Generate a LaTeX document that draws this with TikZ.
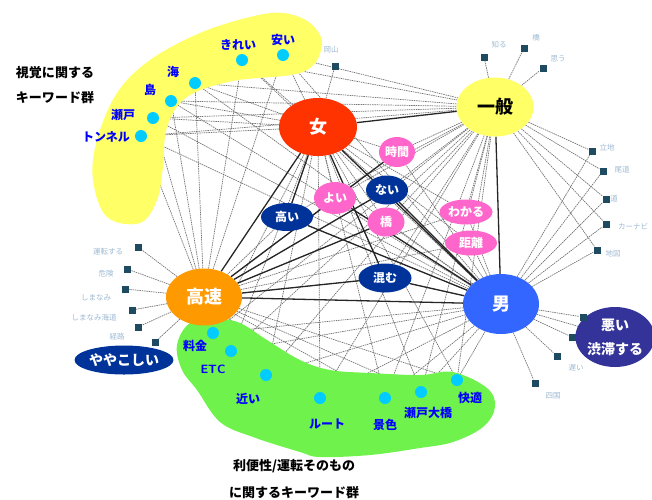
\documentclass[tikz,border=0pt]{standalone}
\usepackage{fontspec}
\newfontfamily\jp{Noto Sans CJK JP}
\usetikzlibrary{shapes.geometric}
\pgfdeclarelayer{bg}\pgfdeclarelayer{blobs}\pgfsetlayers{bg,blobs,main}
\definecolor{fem}{HTML}{FF3300}
\definecolor{gen}{HTML}{FFFF66}
\definecolor{fast}{HTML}{FF9900}
\definecolor{male}{HTML}{3366FF}
\definecolor{indigo}{HTML}{333399}
\definecolor{navy}{HTML}{003399}
\definecolor{pinkc}{HTML}{FF66CC}
\definecolor{dotblue}{HTML}{00CCFF}
\definecolor{textblue}{HTML}{0000FF}
\definecolor{yblob}{HTML}{FFFF66}
\definecolor{gblob}{HTML}{70F24C}
\definecolor{sqc}{HTML}{1E4A62}
\definecolor{faint}{HTML}{9DB9D2}
\tikzset{
 big/.style={ellipse, draw=none, inner sep=0pt, font=\jp\bfseries\fontsize{18}{20}\selectfont},
 small/.style={ellipse, inner sep=0pt, text=white, font=\jp\bfseries\fontsize{12}{14}\selectfont},
 dot/.style={circle, fill=dotblue, minimum size=12pt, inner sep=0pt},
 dlab/.style={text=textblue, inner sep=0pt, font=\jp\bfseries\fontsize{12}{14}\selectfont},
 sq/.style={rectangle, fill=sqc, minimum size=7pt, inner sep=0pt},
 flab/.style={text=faint, inner sep=0pt, font=\jp\fontsize{7.5}{9}\selectfont},
 grp/.style={inner sep=0pt, font=\jp\bfseries\fontsize{13}{15}\selectfont},
 ln/.style={black!55, line width=0.7pt, dash pattern=on 1.5pt off 0.8pt},
 tk/.style={black!85, line width=1.3pt}
}
\begin{document}
\begin{tikzpicture}[x=1pt,y=-1pt]
\useasboundingbox (0,0) rectangle (652,499);
% main nodes
\node[big, fill=fem, text=white, minimum width=78pt, minimum height=58pt] (F) at (318,127) {女};
\node[big, fill=gen, text=black, minimum width=77pt, minimum height=59pt] (G) at (495,107) {一般};
\node[big, fill=fast, text=white, minimum width=76pt, minimum height=57pt] (H) at (204,297) {高速};
\node[big, fill=male, text=white, minimum width=76pt, minimum height=60pt] (M) at (501,304) {男};
\node[small, fill=indigo, minimum width=77pt, minimum height=60pt, align=center, font=\jp\bfseries\fontsize{14}{24}\selectfont] (W) at (615,337) {悪い\\渋滞する};
\node[small, fill=navy, minimum width=96pt, minimum height=29pt, font=\jp\bfseries\fontsize{14}{16}\selectfont] (Y) at (124,360) {ややこしい};
% navy nodes
\node[small, fill=navy, minimum width=52pt, minimum height=28pt] (n1) at (287,217) {高い};
\node[small, fill=navy, minimum width=42pt, minimum height=29pt] (n2) at (387,190) {ない};
\node[small, fill=navy, minimum width=53pt, minimum height=29pt] (n3) at (385,278) {混む};
% pink nodes
\node[small, fill=pinkc, minimum width=36pt, minimum height=30pt] (p1) at (397,152) {時間};
\node[small, fill=pinkc, minimum width=42pt, minimum height=32pt] (p2) at (335,198) {よい};
\node[small, fill=pinkc, minimum width=37pt, minimum height=29pt] (p3) at (386,222) {橋};
\node[small, fill=pinkc, minimum width=53pt, minimum height=25pt] (p4) at (466,212) {わかる};
\node[small, fill=pinkc, minimum width=52pt, minimum height=25pt] (p5) at (471,243) {距離};
% yellow group dots
\node[dot] (y1) at (242,60) {};
\node[dot] (y2) at (283,55) {};
\node[dot] (y3) at (195,83) {};
\node[dot] (y4) at (171,101) {};
\node[dot] (y5) at (153,118) {};
\node[dot] (y6) at (141,136) {};
\node[dlab] (ly1) at (238,45) {きれい};
\node[dlab] (ly2) at (283,40) {安い};
\node[dlab] (ly3) at (173,72) {海};
\node[dlab] (ly4) at (150,90) {島};
\node[dlab] (ly5) at (123,115) {瀬戸};
\node[dlab] (ly6) at (106,137) {トンネル};
% green group dots
\node[dot] (g1) at (213,333) {};
\node[dot] (g2) at (231,351) {};
\node[dot] (g3) at (266,375) {};
\node[dot] (g4) at (320,398) {};
\node[dot] (g5) at (385,398) {};
\node[dot] (g6) at (421,392) {};
\node[dot] (g7) at (457,380) {};
\node[dlab] (lg1) at (195,346) {料金};
\node[dlab, font=\sffamily\bfseries\fontsize{12}{14}\selectfont] (lg2) at (213,369) {ETC};
\node[dlab] (lg3) at (248,399) {近い};
\node[dlab] (lg4) at (327,424) {ルート};
\node[dlab] (lg5) at (385,425) {景色};
\node[dlab] (lg6) at (428,413) {瀬戸大橋};
\node[dlab] (lg7) at (470,398) {快適};
% group captions
\node[grp] (c1) at (55,73) {視覚に関する};
\node[grp] (c2) at (55,98) {キーワード群};
\node[grp] (c3) at (294,466) {利便性/運転そのもの};
\node[grp] (c4) at (294,493) {に関するキーワード群};
% small squares with faint labels
\node[sq] (s0) at (335,66) {};
\node[flab] at (331,50) {岡山};
\node[sq] (t1) at (484,57) {};
\node[flab] at (499,45) {知る};
\node[sq] (t2) at (524,48) {};
\node[flab] at (536,38) {橋};
\node[sq] (t3) at (543,68) {};
\node[flab] at (558,59) {思う};
\node[sq] (r1) at (592,151) {};
\node[flab] at (607,148) {立地};
\node[sq] (r2) at (603,171) {};
\node[flab] at (622,170) {尾道};
\node[sq] (r3) at (606,199) {};
\node[flab] at (614,199) {道};
\node[sq] (r4) at (606,224) {};
\node[flab] at (633,227) {カーナビ};
\node[sq] (r5) at (597,250) {};
\node[flab] at (613,254) {地図};
\node[sq] (b1) at (583,317) {};
\node[sq] (b2) at (572,337) {};
\node[sq] (b3) at (557,356) {};
\node[flab] at (576,368) {遅い};
\node[sq] (b4) at (535,383) {};
\node[flab] at (553,396) {四国};
\node[sq] (l1) at (138,247) {};
\node[flab] at (108,252) {運転する};
\node[sq] (l2) at (127,269) {};
\node[flab] at (106,274) {危険};
\node[sq] (l3) at (125,289) {};
\node[flab] at (96,298) {しまなみ};
\node[sq] (l4) at (132,310) {};
\node[flab] at (94,318) {しまなみ海道};
\node[sq] (l5) at (138,327) {};
\node[flab] at (117,337) {経路};
\node[sq] (l6) at (155,342) {};
% blobs
\begin{pgfonlayer}{blobs}
\fill[yblob] plot[smooth cycle, tension=0.6] coordinates {(93,180) (97,140) (117,93) (150,60) (200,33) (250,17) (283,13) (310,23) (322,45) (303,72) (233,81) (187,97) (167,127) (163,167) (157,200) (140,223) (107,217)};
\fill[gblob] plot[smooth cycle, tension=0.6] coordinates {(177,345) (190,323) (217,319) (240,323) (267,340) (300,360) (330,370) (370,373) (420,375) (453,372) (487,388) (495,407) (483,427) (453,442) (420,448) (370,455) (320,457) (300,452) (253,437) (220,422) (197,390) (182,370)};
\end{pgfonlayer}
% connectors
\begin{pgfonlayer}{bg}
\foreach \a in {F,G,H,M} \foreach \i in {1,...,6} \draw[ln] (\a) -- (y\i);
\foreach \a in {F,G,H,M} \foreach \i in {1,...,7} \draw[ln] (\a) -- (g\i);
\foreach \a in {F,G,H,M} \foreach \i in {1,...,5} \draw[ln] (\a) -- (p\i);
\foreach \a in {F,G,H,M} \foreach \i in {1,...,3} \draw[ln] (\a) -- (n\i);
\draw[ln] (F) -- (s0);
\foreach \i in {1,2,3} \draw[ln] (G) -- (t\i);
\foreach \a in {G,M} \foreach \i in {1,...,5} \draw[ln] (\a) -- (r\i);
\foreach \i in {1,...,4} \draw[ln] (M) -- (b\i);
\foreach \i in {1,...,6} \draw[ln] (H) -- (l\i);
\draw[ln] (M) -- (W);
\draw[tk] (F) -- (G);
\draw[tk] (G) -- (M);
\draw[tk] (H) -- (M);
\draw[tk] (F) -- (H);
\draw[tk] (F) -- (M);
\draw[tk] (F) -- (n1);
\draw[tk] (F) -- (n3);
\draw[tk] (H) -- (n2);
\draw[tk] (H) -- (p3);
\draw[tk] (H) -- (n3);
\draw[tk] (H) -- (p1);
\draw[tk] (M) -- (n1);
\draw[tk] (M) -- (p2);
\draw[tk] (M) -- (n2);
\draw[tk] (M) -- (n3);
\end{pgfonlayer}
\end{tikzpicture}
\end{document}
